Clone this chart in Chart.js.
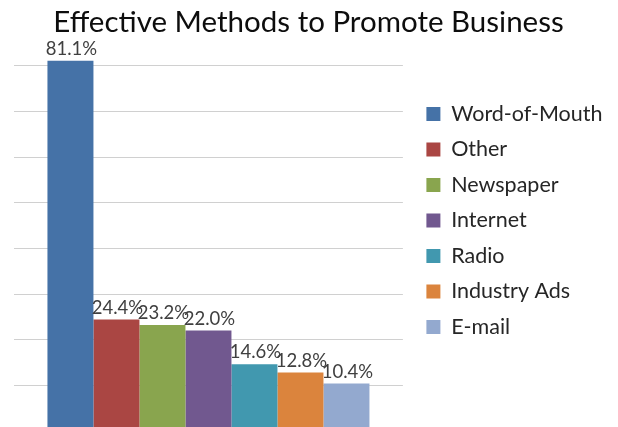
<!DOCTYPE html>
<html>
<head>
<meta charset="utf-8">
<title>Effective Methods to Promote Business</title>
<script src="https://cdn.jsdelivr.net/npm/chart.js@4"></script>
<style>
  html, body { margin: 0; padding: 0; overflow: hidden; background: #fff; }
  #wrap { width: 618px; height: 431px; }
</style>
</head>
<body>
<div id="wrap"><canvas id="chartMethods"></canvas></div>
<script>
const methods = ["Word-of-Mouth", "Other", "Newspaper", "Internet", "Radio", "Industry Ads", "E-mail"];
const shares = [81.1, 24.4, 23.2, 22.0, 14.6, 12.8, 10.4];
const barColors = ["#4572A7", "#AA4643", "#89A54E", "#71588F", "#4198AF", "#DB843D", "#93A9CF"];

// percentage printed above every bar
const valueLabels = {
  id: "valueLabels",
  afterDatasetsDraw(chart) {
    const ctx = chart.ctx;
    ctx.save();
    ctx.font = "18.5px Lato";
    ctx.fillStyle = "#404040";
    ctx.textAlign = "center";
    ctx.textBaseline = "alphabetic";
    chart.data.datasets.forEach((ds, i) => {
      const bar = chart.getDatasetMeta(i).data[0];
      ctx.fillText(ds.data[0].toFixed(1) + "%", bar.x + 1, bar.y - 6);
    });
    ctx.restore();
  },
};

// move the legend a bit right and down from where the layout puts it
const legendShift = {
  id: "legendShift",
  afterLayout(chart) {
    const lg = chart.legend;
    lg.left += 9.5;
    lg.right += 9.5;
    lg.top += 5;
    lg.bottom += 5;
  },
};

function drawChart() {
  const chartMethods = document.getElementById("chartMethods").getContext("2d");
  new Chart(chartMethods, {
    type: "bar",
    data: {
      labels: [""],
      datasets: methods.map((name, i) => ({
        label: name,
        data: [shares[i]],
        backgroundColor: barColors[i],
        borderWidth: 0,
      })),
    },
    options: {
      responsive: true,
      maintainAspectRatio: false,
      animation: false,
      layout: { padding: { left: 14, right: 15 } },
      datasets: {
        bar: { categoryPercentage: 0.828, barPercentage: 1 },
      },
      scales: {
        x: { display: false },
        y: {
          min: 0,
          max: 85,
          ticks: { display: false, stepSize: 10 },
          border: { display: false },
          grid: {
            drawTicks: false,
            lineWidth: 1,
            color: (c) => (c.tick && c.tick.value % 10 === 0 ? "#d0d0d0" : "rgba(0,0,0,0)"),
          },
        },
      },
      plugins: {
        title: {
          display: true,
          text: "Effective Methods to Promote Business",
          color: "#0d0d0d",
          font: { family: "Lato", size: 29.5, weight: "normal" },
          padding: { top: 5, bottom: 2.5 },
        },
        legend: {
          position: "right",
          maxWidth: 260,
          labels: {
            boxWidth: 14,
            boxHeight: 14,
            padding: 14,
            color: "#262626",
            font: { family: "Lato", size: 21.5 },
          },
        },
        tooltip: { enabled: false },
      },
    },
    plugins: [valueLabels, legendShift],
  });
}

Promise.all([
  document.fonts.load("18.5px Lato"),
  document.fonts.load("21.5px Lato"),
  document.fonts.load("29.5px Lato"),
]).then(drawChart, drawChart);
</script>
</body>
</html>
